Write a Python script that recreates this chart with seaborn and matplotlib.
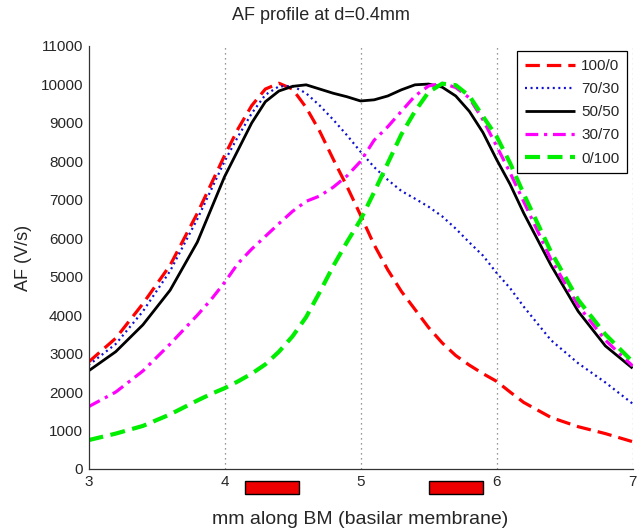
import numpy as np
import pandas as pd
import matplotlib
matplotlib.use("Agg")
import matplotlib.pyplot as plt
import matplotlib.patches as mpatches
import seaborn as sns

# ---------------- data ----------------
x_mm = [3.0, 3.2, 3.4, 3.6, 3.8, 3.9, 4.0, 4.1, 4.2, 4.3, 4.4, 4.5, 4.6, 4.7, 4.8,
        4.9, 5.0, 5.1, 5.2, 5.3, 5.4, 5.5, 5.6, 5.7, 5.8, 5.9, 6.0, 6.1, 6.2, 6.4,
        6.6, 6.8, 7.0]

af_100_0 = [2780, 3400, 4300, 5300, 6650, 7400, 8150, 8850, 9450, 9880, 10030, 9880,
            9400, 8780, 8050, 7350, 6600, 5830, 5180, 4620, 4150, 3680, 3280, 2950,
            2700, 2480, 2280, 2000, 1730, 1340, 1100, 920, 710]
af_70_30 = [2700, 3250, 4100, 5150, 6500, 7250, 8000, 8650, 9250, 9730, 9950, 9960,
            9770, 9450, 9080, 8680, 8250, 7850, 7520, 7230, 7030, 6820, 6570, 6250,
            5890, 5550, 5100, 4700, 4220, 3350, 2750, 2250, 1700]
af_50_50 = [2550, 3050, 3750, 4650, 5900, 6750, 7600, 8300, 9000, 9550, 9830, 9950,
            9990, 9880, 9770, 9680, 9570, 9600, 9700, 9860, 9990, 10010, 9930, 9700,
            9300, 8750, 8050, 7400, 6650, 5300, 4100, 3200, 2620]
af_30_70 = [1620, 2000, 2550, 3250, 4000, 4400, 4850, 5350, 5720, 6050, 6380, 6700,
            6960, 7100, 7330, 7620, 8000, 8550, 8900, 9300, 9700, 9960, 10030, 9920,
            9650, 9080, 8400, 7700, 6950, 5450, 4250, 3350, 2680]
af_0_100 = [750, 920, 1120, 1420, 1780, 1950, 2100, 2280, 2480, 2720, 3050, 3450,
            3950, 4600, 5280, 5900, 6480, 7200, 7950, 8700, 9300, 9800, 10020, 9980,
            9700, 9170, 8650, 7950, 7150, 5650, 4400, 3500, 2790]

series_labels = ["100/0", "70/30", "50/50", "30/70", "0/100"]
series_values = [af_100_0, af_70_30, af_50_50, af_30_70, af_0_100]

x_ticks = [3, 4, 5, 6, 7]
y_ticks = list(range(0, 11001, 1000))

# electrode markers below the x-axis (mm extents)
electrode_start = [4.147, 5.504]
electrode_end = [4.544, 5.900]

title = "AF profile at d=0.4mm"
xlabel = "mm along BM (basilar membrane)"
ylabel = "AF (V/s)"

# ---------------- styling ----------------
sns.set_style("white")
plt.rcParams["font.family"] = ["Liberation Sans", "DejaVu Sans"]

styles = {
    "100/0": dict(color="#ff0000", lw=2.3, dashes=(4.5, 2.2)),
    "70/30": dict(color="#1010d0", lw=1.6, dashes=(0.9, 1.6)),
    "50/50": dict(color="#000000", lw=2.0, dashes=None),
    "30/70": dict(color="#ff00ff", lw=2.3, dashes=(4.0, 1.8, 1.0, 1.8)),
    "0/100": dict(color="#00ee00", lw=3.0, dashes=(3.6, 1.8)),
}

fig = plt.figure(figsize=(6.42, 5.31), dpi=100)
ax = fig.add_axes([0.1379, 0.1168, 0.8474, 0.7966])

df = pd.DataFrame({
    "x": np.tile(x_mm, len(series_labels)),
    "af": np.concatenate(series_values),
    "mix": np.repeat(series_labels, len(x_mm)),
})

for lab in series_labels:
    st = styles[lab]
    sub = df[df["mix"] == lab]
    sns.lineplot(data=sub, x="x", y="af", ax=ax, color=st["color"], lw=st["lw"],
                 label=lab, estimator=None, sort=False)
    line = ax.lines[-1]
    if st["dashes"] is not None:
        line.set_dashes(st["dashes"])
    line.set_solid_capstyle("butt")
    line.set_dash_capstyle("butt")
    line.set_solid_joinstyle("round")

ax.set_xlim(3, 7)
ax.set_ylim(0, 11000)
ax.set_xticks(x_ticks)
ax.set_yticks(y_ticks)
ax.set_xticklabels([str(t) for t in x_ticks], fontsize=11)
ax.set_yticklabels([str(t) for t in y_ticks], fontsize=11)
ax.tick_params(direction="in", length=4, width=0.8, color="#333333", pad=4)

for t in x_ticks[1:]:
    ax.axvline(t, color="#777777", lw=0.9, ls=(0, (1, 3)), zorder=0)

for s in ["top", "right"]:
    ax.spines[s].set_visible(False)
for s in ["left", "bottom"]:
    ax.spines[s].set_color("#333333")
    ax.spines[s].set_linewidth(0.9)

for x0, x1 in zip(electrode_start, electrode_end):
    ax.add_patch(mpatches.Rectangle((x0, -650), x1 - x0, 340, facecolor="#ee0000",
                                    edgecolor="black", lw=1.0, clip_on=False, zorder=5))

ax.set_title(title, fontsize=13, pad=19, x=0.427)
ax.set_xlabel(xlabel, fontsize=14, labelpad=16)
ax.set_ylabel(ylabel, fontsize=13, labelpad=6)

leg = ax.legend(loc="upper right", fontsize=11, handlelength=3.3, frameon=True,
                fancybox=False, edgecolor="black", borderaxespad=0.35,
                labelspacing=0.6, handletextpad=0.4, borderpad=0.5)
leg.get_frame().set_linewidth(0.9)
leg.get_frame().set_alpha(1)

fig.savefig("out.png", dpi=100)
